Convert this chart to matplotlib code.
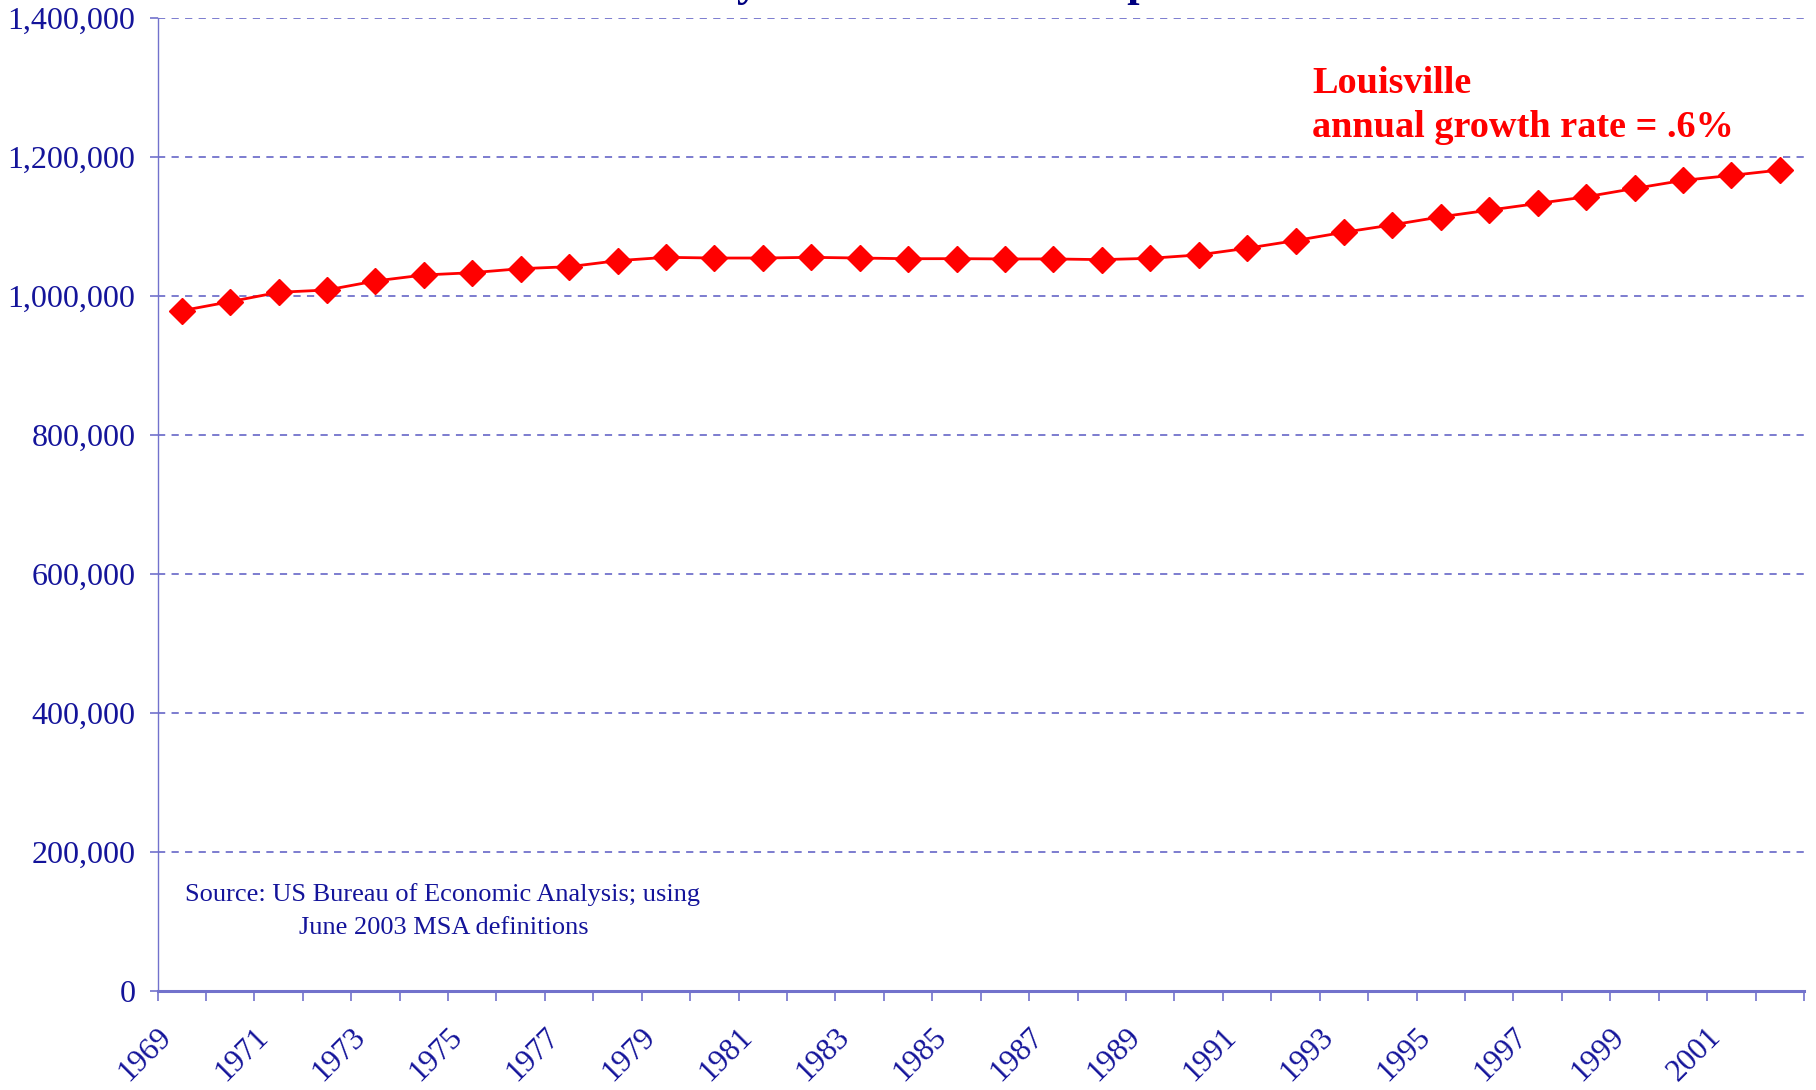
import numpy as np
import matplotlib.pyplot as plt
from matplotlib.transforms import ScaledTranslation
from matplotlib.ticker import FuncFormatter

plt.rcParams['font.family'] = ['Liberation Serif', 'DejaVu Serif']

# data (population, Louisville MSA)
years = list(range(1969, 2003))
population = [978400, 991400, 1004900, 1008200, 1021200, 1029800, 1033100, 1038900,
              1041700, 1050400, 1055200, 1054200, 1054200, 1055200, 1054200, 1053200,
              1053300, 1052900, 1052900, 1051900, 1053800, 1058700, 1068300, 1079300,
              1091300, 1101900, 1113500, 1123100, 1132700, 1142300, 1154300, 1165900,
              1173100, 1180800]
yticks = [0, 200000, 400000, 600000, 800000, 1000000, 1200000, 1400000]

navy = '#14149a'
lav = '#7272cc'
red = '#ff0000'

fig = plt.figure(figsize=(18.16, 10.9), dpi=100)
ax = fig.add_axes([157.5/1816, 1 - 990.7/1090, (1804 - 157.5)/1816, (990.7 - 17.7)/1090])

x = np.arange(len(years))
ax.plot(x, population, color=red, lw=2.0, marker='D', ms=13.5, mec=red, mfc=red, zorder=3)

ax.set_xlim(-0.5, len(years) - 0.5)
ax.set_ylim(0, 1400000)
ax.set_yticks(yticks)
ax.yaxis.set_major_formatter(FuncFormatter(lambda v, p: '{:,.0f}'.format(v)))
ax.grid(axis='y', color=lav, lw=1.3, linestyle=(0, (4, 3.5)))
ax.set_axisbelow(True)

for s in ['top', 'right']:
    ax.spines[s].set_visible(False)
ax.spines['left'].set_color(lav)
ax.spines['left'].set_linewidth(1.0)
ax.spines['bottom'].set_color(lav)
ax.spines['bottom'].set_linewidth(2.2)

ax.tick_params(axis='y', colors=lav, labelcolor=navy, labelsize=23, length=6, width=1.2, pad=10)
# tick marks between categories, labels every other year
ax.set_xticks(np.arange(-0.5, len(years), 1), minor=True)
ax.set_xticks([])
ax.tick_params(axis='x', which='minor', colors=lav, length=7, width=1.2, direction='out')

off = ScaledTranslation(-25/100, -32/100, fig.dpi_scale_trans)
for i in range(0, len(years), 2):
    ax.text(i, 0, str(years[i]), transform=ax.get_xaxis_transform() + off,
            rotation=45, rotation_mode='anchor', ha='right', va='top',
            fontsize=22.5, color=navy, clip_on=False)

fig.text(1312/1816, 1 - 93/1090, 'Louisville', color=red, fontsize=27.5,
         fontweight='bold', ha='left', va='baseline')
fig.text(1312/1816, 1 - 137/1090, 'annual growth rate = .6%', color=red, fontsize=27.5,
         fontweight='bold', ha='left', va='baseline')

fig.text(185/1816, 1 - 901/1090, 'Source: US Bureau of Economic Analysis; using',
         color=navy, fontsize=19, ha='left', va='baseline')
fig.text(299/1816, 1 - 934/1090, 'June 2003 MSA definitions',
         color=navy, fontsize=19, ha='left', va='baseline')

# title sits mostly above the visible area, as in the source slide
fig.text(631/1816, 1 + 4/1090, 'Steady but Slow Metro Population', color='#000080',
         fontsize=32, fontweight='bold', ha='left', va='baseline')

fig.savefig('out.png', dpi=100)
